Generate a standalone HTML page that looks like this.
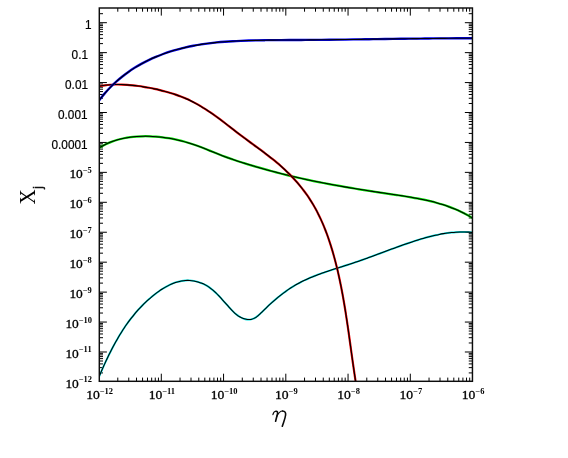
<!DOCTYPE html><html><head><meta charset="utf-8"><style>html,body{margin:0;padding:0;background:#fff;overflow:hidden}svg{display:block;position:absolute;left:0;top:0;will-change:transform}</style></head><body><svg width="568" height="458" viewBox="0 0 568 458"><rect width="568" height="458" fill="#fff"/><defs><clipPath id="c"><rect x="99.30" y="8.00" width="373.15" height="373.30"/></clipPath></defs><path d="M117.79 381.30V377.60M117.79 8.00V11.70M128.75 381.30V377.60M128.75 8.00V11.70M136.53 381.30V377.60M136.53 8.00V11.70M142.56 381.30V377.60M142.56 8.00V11.70M147.49 381.30V377.60M147.49 8.00V11.70M151.66 381.30V377.60M151.66 8.00V11.70M155.27 381.30V377.60M155.27 8.00V11.70M158.45 381.30V377.60M158.45 8.00V11.70M161.30 381.30V373.70M161.30 8.00V15.60M180.04 381.30V377.60M180.04 8.00V11.70M191.00 381.30V377.60M191.00 8.00V11.70M198.78 381.30V377.60M198.78 8.00V11.70M204.81 381.30V377.60M204.81 8.00V11.70M209.74 381.30V377.60M209.74 8.00V11.70M213.91 381.30V377.60M213.91 8.00V11.70M217.52 381.30V377.60M217.52 8.00V11.70M220.70 381.30V377.60M220.70 8.00V11.70M223.55 381.30V373.70M223.55 8.00V15.60M242.29 381.30V377.60M242.29 8.00V11.70M253.25 381.30V377.60M253.25 8.00V11.70M261.03 381.30V377.60M261.03 8.00V11.70M267.06 381.30V377.60M267.06 8.00V11.70M271.99 381.30V377.60M271.99 8.00V11.70M276.16 381.30V377.60M276.16 8.00V11.70M279.77 381.30V377.60M279.77 8.00V11.70M282.95 381.30V377.60M282.95 8.00V11.70M285.80 381.30V373.70M285.80 8.00V15.60M304.54 381.30V377.60M304.54 8.00V11.70M315.50 381.30V377.60M315.50 8.00V11.70M323.28 381.30V377.60M323.28 8.00V11.70M329.31 381.30V377.60M329.31 8.00V11.70M334.24 381.30V377.60M334.24 8.00V11.70M338.41 381.30V377.60M338.41 8.00V11.70M342.02 381.30V377.60M342.02 8.00V11.70M345.20 381.30V377.60M345.20 8.00V11.70M348.05 381.30V373.70M348.05 8.00V15.60M366.79 381.30V377.60M366.79 8.00V11.70M377.75 381.30V377.60M377.75 8.00V11.70M385.53 381.30V377.60M385.53 8.00V11.70M391.56 381.30V377.60M391.56 8.00V11.70M396.49 381.30V377.60M396.49 8.00V11.70M400.66 381.30V377.60M400.66 8.00V11.70M404.27 381.30V377.60M404.27 8.00V11.70M407.45 381.30V377.60M407.45 8.00V11.70M410.30 381.30V373.70M410.30 8.00V15.60M429.04 381.30V377.60M429.04 8.00V11.70M440.00 381.30V377.60M440.00 8.00V11.70M447.78 381.30V377.60M447.78 8.00V11.70M453.81 381.30V377.60M453.81 8.00V11.70M458.74 381.30V377.60M458.74 8.00V11.70M462.91 381.30V377.60M462.91 8.00V11.70M466.52 381.30V377.60M466.52 8.00V11.70M469.70 381.30V377.60M469.70 8.00V11.70M99.30 372.91H103.00M472.45 372.91H468.75M99.30 367.64H103.00M472.45 367.64H468.75M99.30 363.90H103.00M472.45 363.90H468.75M99.30 361.00H103.00M472.45 361.00H468.75M99.30 358.63H103.00M472.45 358.63H468.75M99.30 356.62H103.00M472.45 356.62H468.75M99.30 354.89H103.00M472.45 354.89H468.75M99.30 353.35H103.00M472.45 353.35H468.75M99.30 351.99H106.90M472.45 351.99H464.85M99.30 342.97H103.00M472.45 342.97H468.75M99.30 337.70H103.00M472.45 337.70H468.75M99.30 333.96H103.00M472.45 333.96H468.75M99.30 331.06H103.00M472.45 331.06H468.75M99.30 328.69H103.00M472.45 328.69H468.75M99.30 326.69H103.00M472.45 326.69H468.75M99.30 324.95H103.00M472.45 324.95H468.75M99.30 323.42H103.00M472.45 323.42H468.75M99.30 322.05H106.90M472.45 322.05H464.85M99.30 313.04H103.00M472.45 313.04H468.75M99.30 307.77H103.00M472.45 307.77H468.75M99.30 304.03H103.00M472.45 304.03H468.75M99.30 301.13H103.00M472.45 301.13H468.75M99.30 298.76H103.00M472.45 298.76H468.75M99.30 296.75H103.00M472.45 296.75H468.75M99.30 295.02H103.00M472.45 295.02H468.75M99.30 293.48H103.00M472.45 293.48H468.75M99.30 292.12H106.90M472.45 292.12H464.85M99.30 283.10H103.00M472.45 283.10H468.75M99.30 277.83H103.00M472.45 277.83H468.75M99.30 274.09H103.00M472.45 274.09H468.75M99.30 271.19H103.00M472.45 271.19H468.75M99.30 268.82H103.00M472.45 268.82H468.75M99.30 266.82H103.00M472.45 266.82H468.75M99.30 265.08H103.00M472.45 265.08H468.75M99.30 263.55H103.00M472.45 263.55H468.75M99.30 262.18H106.90M472.45 262.18H464.85M99.30 253.17H103.00M472.45 253.17H468.75M99.30 247.90H103.00M472.45 247.90H468.75M99.30 244.16H103.00M472.45 244.16H468.75M99.30 241.26H103.00M472.45 241.26H468.75M99.30 238.89H103.00M472.45 238.89H468.75M99.30 236.88H103.00M472.45 236.88H468.75M99.30 235.15H103.00M472.45 235.15H468.75M99.30 233.61H103.00M472.45 233.61H468.75M99.30 232.24H106.90M472.45 232.24H464.85M99.30 223.23H103.00M472.45 223.23H468.75M99.30 217.96H103.00M472.45 217.96H468.75M99.30 214.22H103.00M472.45 214.22H468.75M99.30 211.32H103.00M472.45 211.32H468.75M99.30 208.95H103.00M472.45 208.95H468.75M99.30 206.95H103.00M472.45 206.95H468.75M99.30 205.21H103.00M472.45 205.21H468.75M99.30 203.68H103.00M472.45 203.68H468.75M99.30 202.31H106.90M472.45 202.31H464.85M99.30 193.30H103.00M472.45 193.30H468.75M99.30 188.03H103.00M472.45 188.03H468.75M99.30 184.29H103.00M472.45 184.29H468.75M99.30 181.39H103.00M472.45 181.39H468.75M99.30 179.02H103.00M472.45 179.02H468.75M99.30 177.01H103.00M472.45 177.01H468.75M99.30 175.28H103.00M472.45 175.28H468.75M99.30 173.74H103.00M472.45 173.74H468.75M99.30 172.37H106.90M472.45 172.37H464.85M99.30 163.36H103.00M472.45 163.36H468.75M99.30 158.09H103.00M472.45 158.09H468.75M99.30 154.35H103.00M472.45 154.35H468.75M99.30 151.45H103.00M472.45 151.45H468.75M99.30 149.08H103.00M472.45 149.08H468.75M99.30 147.08H103.00M472.45 147.08H468.75M99.30 145.34H103.00M472.45 145.34H468.75M99.30 143.81H103.00M472.45 143.81H468.75M99.30 142.44H106.90M472.45 142.44H464.85M99.30 133.43H103.00M472.45 133.43H468.75M99.30 128.16H103.00M472.45 128.16H468.75M99.30 124.42H103.00M472.45 124.42H468.75M99.30 121.52H103.00M472.45 121.52H468.75M99.30 119.15H103.00M472.45 119.15H468.75M99.30 117.14H103.00M472.45 117.14H468.75M99.30 115.41H103.00M472.45 115.41H468.75M99.30 113.87H103.00M472.45 113.87H468.75M99.30 112.50H106.90M472.45 112.50H464.85M99.30 103.49H103.00M472.45 103.49H468.75M99.30 98.22H103.00M472.45 98.22H468.75M99.30 94.48H103.00M472.45 94.48H468.75M99.30 91.58H103.00M472.45 91.58H468.75M99.30 89.21H103.00M472.45 89.21H468.75M99.30 87.21H103.00M472.45 87.21H468.75M99.30 85.47H103.00M472.45 85.47H468.75M99.30 83.94H103.00M472.45 83.94H468.75M99.30 82.57H106.90M472.45 82.57H464.85M99.30 73.56H103.00M472.45 73.56H468.75M99.30 68.29H103.00M472.45 68.29H468.75M99.30 64.55H103.00M472.45 64.55H468.75M99.30 61.65H103.00M472.45 61.65H468.75M99.30 59.28H103.00M472.45 59.28H468.75M99.30 57.27H103.00M472.45 57.27H468.75M99.30 55.54H103.00M472.45 55.54H468.75M99.30 54.00H103.00M472.45 54.00H468.75M99.30 52.63H106.90M472.45 52.63H464.85M99.30 43.62H103.00M472.45 43.62H468.75M99.30 38.35H103.00M472.45 38.35H468.75M99.30 34.61H103.00M472.45 34.61H468.75M99.30 31.71H103.00M472.45 31.71H468.75M99.30 29.34H103.00M472.45 29.34H468.75M99.30 27.34H103.00M472.45 27.34H468.75M99.30 25.60H103.00M472.45 25.60H468.75M99.30 24.07H103.00M472.45 24.07H468.75M99.30 22.70H106.90M472.45 22.70H464.85M99.30 13.69H103.00M472.45 13.69H468.75" stroke="#000" stroke-width="1" fill="none"/><g clip-path="url(#c)" fill="none" stroke-linecap="round" stroke-linejoin="round"><path d="M99.29 147.78 C100.29 147.24 103.27 145.49 105.29 144.50 C107.31 143.51 109.35 142.64 111.41 141.85 C113.46 141.07 115.54 140.38 117.63 139.78 C119.71 139.18 121.82 138.68 123.93 138.24 C126.04 137.81 128.16 137.46 130.29 137.17 C132.42 136.89 134.56 136.68 136.70 136.53 C138.84 136.38 140.99 136.29 143.14 136.26 C145.28 136.22 147.43 136.24 149.58 136.30 C151.72 136.37 153.87 136.48 156.01 136.65 C158.16 136.81 160.30 137.03 162.44 137.29 C164.58 137.55 166.72 137.87 168.86 138.22 C171.00 138.58 173.13 138.99 175.27 139.44 C177.40 139.90 179.52 140.40 181.65 140.94 C183.77 141.49 185.89 142.08 188.01 142.72 C190.12 143.36 192.23 144.04 194.34 144.77 C196.44 145.49 198.54 146.27 200.64 147.07 C202.73 147.86 204.82 148.70 206.91 149.54 C208.99 150.37 211.08 151.23 213.15 152.07 C215.23 152.91 217.31 153.75 219.38 154.56 C221.45 155.37 223.52 156.15 225.59 156.91 C227.66 157.67 229.73 158.40 231.80 159.12 C233.86 159.83 235.93 160.52 237.99 161.20 C240.06 161.87 242.12 162.53 244.19 163.17 C246.26 163.82 248.32 164.44 250.39 165.07 C252.46 165.69 254.53 166.30 256.60 166.90 C258.67 167.51 260.75 168.10 262.82 168.69 C264.90 169.28 266.98 169.86 269.06 170.43 C271.15 170.99 273.23 171.56 275.33 172.11 C277.42 172.66 279.51 173.20 281.62 173.73 C283.72 174.27 285.83 174.79 287.94 175.30 C290.05 175.82 292.17 176.32 294.30 176.82 C296.42 177.31 298.55 177.80 300.69 178.27 C302.83 178.75 304.97 179.22 307.11 179.67 C309.26 180.13 311.41 180.58 313.57 181.03 C315.72 181.47 317.88 181.90 320.04 182.33 C322.21 182.76 324.37 183.17 326.54 183.59 C328.71 184.00 330.88 184.40 333.05 184.80 C335.23 185.20 337.40 185.59 339.58 185.98 C341.75 186.36 343.93 186.74 346.11 187.12 C348.29 187.49 350.47 187.86 352.65 188.22 C354.83 188.58 357.01 188.94 359.19 189.30 C361.37 189.65 363.55 190.00 365.73 190.34 C367.91 190.69 370.08 191.03 372.26 191.36 C374.43 191.70 376.61 192.03 378.78 192.36 C380.95 192.69 383.12 193.01 385.29 193.34 C387.45 193.66 389.62 193.98 391.78 194.30 C393.94 194.62 396.09 194.93 398.24 195.26 C400.40 195.58 402.54 195.90 404.69 196.24 C406.83 196.58 408.97 196.92 411.10 197.28 C413.23 197.65 415.36 198.02 417.48 198.42 C419.60 198.82 421.72 199.23 423.83 199.68 C425.93 200.13 428.03 200.59 430.13 201.10 C432.22 201.61 434.31 202.14 436.39 202.71 C438.47 203.29 440.54 203.90 442.60 204.55 C444.66 205.21 446.72 205.91 448.76 206.65 C450.80 207.40 452.84 208.19 454.86 209.05 C456.89 209.90 458.90 210.80 460.91 211.76 C462.91 212.73 464.91 213.75 466.89 214.84 C468.87 215.93 471.82 217.73 472.81 218.31" stroke="#00e000" stroke-width="2.25"/><path d="M99.29 147.78 C100.29 147.24 103.27 145.49 105.29 144.50 C107.31 143.51 109.35 142.64 111.41 141.85 C113.46 141.07 115.54 140.38 117.63 139.78 C119.71 139.18 121.82 138.68 123.93 138.24 C126.04 137.81 128.16 137.46 130.29 137.17 C132.42 136.89 134.56 136.68 136.70 136.53 C138.84 136.38 140.99 136.29 143.14 136.26 C145.28 136.22 147.43 136.24 149.58 136.30 C151.72 136.37 153.87 136.48 156.01 136.65 C158.16 136.81 160.30 137.03 162.44 137.29 C164.58 137.55 166.72 137.87 168.86 138.22 C171.00 138.58 173.13 138.99 175.27 139.44 C177.40 139.90 179.52 140.40 181.65 140.94 C183.77 141.49 185.89 142.08 188.01 142.72 C190.12 143.36 192.23 144.04 194.34 144.77 C196.44 145.49 198.54 146.27 200.64 147.07 C202.73 147.86 204.82 148.70 206.91 149.54 C208.99 150.37 211.08 151.23 213.15 152.07 C215.23 152.91 217.31 153.75 219.38 154.56 C221.45 155.37 223.52 156.15 225.59 156.91 C227.66 157.67 229.73 158.40 231.80 159.12 C233.86 159.83 235.93 160.52 237.99 161.20 C240.06 161.87 242.12 162.53 244.19 163.17 C246.26 163.82 248.32 164.44 250.39 165.07 C252.46 165.69 254.53 166.30 256.60 166.90 C258.67 167.51 260.75 168.10 262.82 168.69 C264.90 169.28 266.98 169.86 269.06 170.43 C271.15 170.99 273.23 171.56 275.33 172.11 C277.42 172.66 279.51 173.20 281.62 173.73 C283.72 174.27 285.83 174.79 287.94 175.30 C290.05 175.82 292.17 176.32 294.30 176.82 C296.42 177.31 298.55 177.80 300.69 178.27 C302.83 178.75 304.97 179.22 307.11 179.67 C309.26 180.13 311.41 180.58 313.57 181.03 C315.72 181.47 317.88 181.90 320.04 182.33 C322.21 182.76 324.37 183.17 326.54 183.59 C328.71 184.00 330.88 184.40 333.05 184.80 C335.23 185.20 337.40 185.59 339.58 185.98 C341.75 186.36 343.93 186.74 346.11 187.12 C348.29 187.49 350.47 187.86 352.65 188.22 C354.83 188.58 357.01 188.94 359.19 189.30 C361.37 189.65 363.55 190.00 365.73 190.34 C367.91 190.69 370.08 191.03 372.26 191.36 C374.43 191.70 376.61 192.03 378.78 192.36 C380.95 192.69 383.12 193.01 385.29 193.34 C387.45 193.66 389.62 193.98 391.78 194.30 C393.94 194.62 396.09 194.93 398.24 195.26 C400.40 195.58 402.54 195.90 404.69 196.24 C406.83 196.58 408.97 196.92 411.10 197.28 C413.23 197.65 415.36 198.02 417.48 198.42 C419.60 198.82 421.72 199.23 423.83 199.68 C425.93 200.13 428.03 200.59 430.13 201.10 C432.22 201.61 434.31 202.14 436.39 202.71 C438.47 203.29 440.54 203.90 442.60 204.55 C444.66 205.21 446.72 205.91 448.76 206.65 C450.80 207.40 452.84 208.19 454.86 209.05 C456.89 209.90 458.90 210.80 460.91 211.76 C462.91 212.73 464.91 213.75 466.89 214.84 C468.87 215.93 471.82 217.73 472.81 218.31" stroke="#000" stroke-width="1.05"/></g><g clip-path="url(#c)" fill="none" stroke-linecap="round" stroke-linejoin="round"><path d="M99.30 376.07 C99.57 375.44 100.39 373.53 100.94 372.26 C101.49 370.99 102.05 369.72 102.61 368.45 C103.18 367.17 103.75 365.90 104.33 364.63 C104.91 363.36 105.49 362.09 106.08 360.83 C106.68 359.56 107.28 358.30 107.89 357.04 C108.50 355.77 109.11 354.52 109.74 353.26 C110.36 352.01 111.00 350.75 111.64 349.51 C112.29 348.26 112.94 347.02 113.60 345.78 C114.27 344.55 114.94 343.32 115.62 342.09 C116.30 340.87 117.00 339.65 117.70 338.44 C118.41 337.22 119.12 336.02 119.85 334.82 C120.58 333.63 121.32 332.44 122.07 331.26 C122.82 330.08 123.58 328.90 124.36 327.74 C125.13 326.58 125.92 325.43 126.72 324.28 C127.53 323.14 128.34 322.01 129.17 320.89 C130.00 319.77 130.84 318.66 131.70 317.56 C132.55 316.46 133.43 315.38 134.31 314.30 C135.20 313.23 136.10 312.17 137.02 311.12 C137.93 310.08 138.87 309.04 139.81 308.02 C140.76 307.01 141.73 306.00 142.71 305.01 C143.69 304.02 144.69 303.05 145.70 302.09 C146.72 301.13 147.75 300.19 148.80 299.27 C149.85 298.34 150.92 297.43 152.00 296.54 C153.09 295.65 154.19 294.78 155.32 293.93 C156.44 293.07 157.58 292.24 158.74 291.42 C159.90 290.61 161.08 289.81 162.28 289.05 C163.48 288.29 164.70 287.55 165.93 286.86 C167.16 286.17 168.41 285.51 169.67 284.90 C170.94 284.30 172.22 283.73 173.51 283.23 C174.80 282.73 176.11 282.28 177.43 281.90 C178.75 281.52 180.09 281.19 181.43 280.95 C182.78 280.71 184.14 280.53 185.51 280.44 C186.87 280.35 188.26 280.34 189.64 280.42 C191.02 280.50 192.43 280.67 193.81 280.92 C195.19 281.16 196.58 281.49 197.94 281.89 C199.29 282.29 200.64 282.77 201.95 283.32 C203.26 283.86 204.54 284.48 205.77 285.16 C207.00 285.83 208.19 286.58 209.34 287.38 C210.48 288.17 211.57 289.03 212.63 289.92 C213.69 290.81 214.71 291.76 215.71 292.72 C216.71 293.68 217.68 294.67 218.64 295.68 C219.60 296.68 220.53 297.70 221.47 298.72 C222.40 299.74 223.32 300.76 224.26 301.80 C225.19 302.84 226.11 303.89 227.06 304.95 C228.01 306.01 228.96 307.11 229.94 308.18 C230.92 309.25 231.92 310.35 232.96 311.36 C233.99 312.38 235.05 313.39 236.16 314.29 C237.27 315.18 238.41 316.04 239.61 316.75 C240.81 317.46 242.07 318.09 243.34 318.54 C244.61 319.00 245.93 319.34 247.22 319.49 C248.50 319.63 249.81 319.63 251.04 319.40 C252.27 319.17 253.47 318.72 254.62 318.11 C255.76 317.51 256.84 316.66 257.91 315.79 C258.98 314.91 260.01 313.87 261.05 312.88 C262.09 311.88 263.11 310.83 264.15 309.83 C265.19 308.82 266.23 307.82 267.27 306.84 C268.32 305.85 269.37 304.88 270.42 303.92 C271.48 302.95 272.54 302.01 273.61 301.07 C274.67 300.14 275.75 299.22 276.83 298.31 C277.91 297.41 279.00 296.52 280.09 295.65 C281.19 294.78 282.30 293.92 283.41 293.09 C284.53 292.25 285.65 291.43 286.78 290.64 C287.92 289.84 289.06 289.06 290.21 288.30 C291.37 287.55 292.54 286.81 293.71 286.10 C294.89 285.38 296.08 284.69 297.29 284.02 C298.49 283.36 299.70 282.71 300.93 282.08 C302.16 281.46 303.39 280.85 304.64 280.26 C305.88 279.67 307.14 279.11 308.41 278.55 C309.67 278.00 310.95 277.46 312.23 276.93 C313.51 276.41 314.80 275.90 316.09 275.40 C317.39 274.90 318.69 274.42 320.00 273.94 C321.31 273.46 322.63 273.00 323.95 272.54 C325.27 272.08 326.59 271.63 327.92 271.19 C329.24 270.74 330.58 270.31 331.91 269.87 C333.24 269.44 334.58 269.01 335.92 268.58 C337.26 268.15 338.60 267.73 339.94 267.30 C341.28 266.88 342.62 266.45 343.96 266.03 C345.30 265.60 346.64 265.17 347.98 264.74 C349.32 264.30 350.66 263.87 352.00 263.42 C353.33 262.98 354.66 262.53 355.99 262.08 C357.32 261.62 358.65 261.16 359.98 260.70 C361.30 260.23 362.63 259.76 363.95 259.29 C365.27 258.82 366.59 258.34 367.91 257.86 C369.23 257.38 370.55 256.90 371.86 256.42 C373.18 255.93 374.50 255.45 375.81 254.96 C377.12 254.47 378.44 253.98 379.75 253.50 C381.06 253.01 382.37 252.52 383.69 252.03 C385.00 251.54 386.31 251.05 387.62 250.57 C388.93 250.08 390.24 249.60 391.55 249.11 C392.86 248.63 394.18 248.15 395.49 247.67 C396.80 247.19 398.11 246.72 399.43 246.25 C400.74 245.78 402.05 245.31 403.37 244.85 C404.69 244.39 406.00 243.93 407.32 243.48 C408.64 243.03 409.96 242.58 411.28 242.14 C412.60 241.71 413.92 241.27 415.25 240.85 C416.57 240.42 417.90 240.00 419.23 239.59 C420.55 239.19 421.89 238.79 423.22 238.40 C424.55 238.01 425.89 237.63 427.23 237.27 C428.57 236.90 429.91 236.55 431.25 236.22 C432.60 235.88 433.94 235.56 435.30 235.25 C436.65 234.95 438.00 234.66 439.36 234.39 C440.72 234.12 442.08 233.87 443.45 233.64 C444.81 233.42 446.18 233.20 447.55 233.02 C448.93 232.83 450.31 232.67 451.69 232.53 C453.07 232.39 454.46 232.27 455.85 232.18 C457.24 232.10 458.64 232.03 460.04 232.00 C461.44 231.96 462.85 231.96 464.26 231.98 C465.68 232.01 467.09 232.06 468.52 232.14 C469.94 232.23 472.09 232.44 472.80 232.50" stroke="#00e0e0" stroke-width="1.9"/><path d="M99.30 376.07 C99.57 375.44 100.39 373.53 100.94 372.26 C101.49 370.99 102.05 369.72 102.61 368.45 C103.18 367.17 103.75 365.90 104.33 364.63 C104.91 363.36 105.49 362.09 106.08 360.83 C106.68 359.56 107.28 358.30 107.89 357.04 C108.50 355.77 109.11 354.52 109.74 353.26 C110.36 352.01 111.00 350.75 111.64 349.51 C112.29 348.26 112.94 347.02 113.60 345.78 C114.27 344.55 114.94 343.32 115.62 342.09 C116.30 340.87 117.00 339.65 117.70 338.44 C118.41 337.22 119.12 336.02 119.85 334.82 C120.58 333.63 121.32 332.44 122.07 331.26 C122.82 330.08 123.58 328.90 124.36 327.74 C125.13 326.58 125.92 325.43 126.72 324.28 C127.53 323.14 128.34 322.01 129.17 320.89 C130.00 319.77 130.84 318.66 131.70 317.56 C132.55 316.46 133.43 315.38 134.31 314.30 C135.20 313.23 136.10 312.17 137.02 311.12 C137.93 310.08 138.87 309.04 139.81 308.02 C140.76 307.01 141.73 306.00 142.71 305.01 C143.69 304.02 144.69 303.05 145.70 302.09 C146.72 301.13 147.75 300.19 148.80 299.27 C149.85 298.34 150.92 297.43 152.00 296.54 C153.09 295.65 154.19 294.78 155.32 293.93 C156.44 293.07 157.58 292.24 158.74 291.42 C159.90 290.61 161.08 289.81 162.28 289.05 C163.48 288.29 164.70 287.55 165.93 286.86 C167.16 286.17 168.41 285.51 169.67 284.90 C170.94 284.30 172.22 283.73 173.51 283.23 C174.80 282.73 176.11 282.28 177.43 281.90 C178.75 281.52 180.09 281.19 181.43 280.95 C182.78 280.71 184.14 280.53 185.51 280.44 C186.87 280.35 188.26 280.34 189.64 280.42 C191.02 280.50 192.43 280.67 193.81 280.92 C195.19 281.16 196.58 281.49 197.94 281.89 C199.29 282.29 200.64 282.77 201.95 283.32 C203.26 283.86 204.54 284.48 205.77 285.16 C207.00 285.83 208.19 286.58 209.34 287.38 C210.48 288.17 211.57 289.03 212.63 289.92 C213.69 290.81 214.71 291.76 215.71 292.72 C216.71 293.68 217.68 294.67 218.64 295.68 C219.60 296.68 220.53 297.70 221.47 298.72 C222.40 299.74 223.32 300.76 224.26 301.80 C225.19 302.84 226.11 303.89 227.06 304.95 C228.01 306.01 228.96 307.11 229.94 308.18 C230.92 309.25 231.92 310.35 232.96 311.36 C233.99 312.38 235.05 313.39 236.16 314.29 C237.27 315.18 238.41 316.04 239.61 316.75 C240.81 317.46 242.07 318.09 243.34 318.54 C244.61 319.00 245.93 319.34 247.22 319.49 C248.50 319.63 249.81 319.63 251.04 319.40 C252.27 319.17 253.47 318.72 254.62 318.11 C255.76 317.51 256.84 316.66 257.91 315.79 C258.98 314.91 260.01 313.87 261.05 312.88 C262.09 311.88 263.11 310.83 264.15 309.83 C265.19 308.82 266.23 307.82 267.27 306.84 C268.32 305.85 269.37 304.88 270.42 303.92 C271.48 302.95 272.54 302.01 273.61 301.07 C274.67 300.14 275.75 299.22 276.83 298.31 C277.91 297.41 279.00 296.52 280.09 295.65 C281.19 294.78 282.30 293.92 283.41 293.09 C284.53 292.25 285.65 291.43 286.78 290.64 C287.92 289.84 289.06 289.06 290.21 288.30 C291.37 287.55 292.54 286.81 293.71 286.10 C294.89 285.38 296.08 284.69 297.29 284.02 C298.49 283.36 299.70 282.71 300.93 282.08 C302.16 281.46 303.39 280.85 304.64 280.26 C305.88 279.67 307.14 279.11 308.41 278.55 C309.67 278.00 310.95 277.46 312.23 276.93 C313.51 276.41 314.80 275.90 316.09 275.40 C317.39 274.90 318.69 274.42 320.00 273.94 C321.31 273.46 322.63 273.00 323.95 272.54 C325.27 272.08 326.59 271.63 327.92 271.19 C329.24 270.74 330.58 270.31 331.91 269.87 C333.24 269.44 334.58 269.01 335.92 268.58 C337.26 268.15 338.60 267.73 339.94 267.30 C341.28 266.88 342.62 266.45 343.96 266.03 C345.30 265.60 346.64 265.17 347.98 264.74 C349.32 264.30 350.66 263.87 352.00 263.42 C353.33 262.98 354.66 262.53 355.99 262.08 C357.32 261.62 358.65 261.16 359.98 260.70 C361.30 260.23 362.63 259.76 363.95 259.29 C365.27 258.82 366.59 258.34 367.91 257.86 C369.23 257.38 370.55 256.90 371.86 256.42 C373.18 255.93 374.50 255.45 375.81 254.96 C377.12 254.47 378.44 253.98 379.75 253.50 C381.06 253.01 382.37 252.52 383.69 252.03 C385.00 251.54 386.31 251.05 387.62 250.57 C388.93 250.08 390.24 249.60 391.55 249.11 C392.86 248.63 394.18 248.15 395.49 247.67 C396.80 247.19 398.11 246.72 399.43 246.25 C400.74 245.78 402.05 245.31 403.37 244.85 C404.69 244.39 406.00 243.93 407.32 243.48 C408.64 243.03 409.96 242.58 411.28 242.14 C412.60 241.71 413.92 241.27 415.25 240.85 C416.57 240.42 417.90 240.00 419.23 239.59 C420.55 239.19 421.89 238.79 423.22 238.40 C424.55 238.01 425.89 237.63 427.23 237.27 C428.57 236.90 429.91 236.55 431.25 236.22 C432.60 235.88 433.94 235.56 435.30 235.25 C436.65 234.95 438.00 234.66 439.36 234.39 C440.72 234.12 442.08 233.87 443.45 233.64 C444.81 233.42 446.18 233.20 447.55 233.02 C448.93 232.83 450.31 232.67 451.69 232.53 C453.07 232.39 454.46 232.27 455.85 232.18 C457.24 232.10 458.64 232.03 460.04 232.00 C461.44 231.96 462.85 231.96 464.26 231.98 C465.68 232.01 467.09 232.06 468.52 232.14 C469.94 232.23 472.09 232.44 472.80 232.50" stroke="#000" stroke-width="1.05"/></g><g clip-path="url(#c)" fill="none" stroke-linecap="round" stroke-linejoin="round"><path d="M99.29 86.19 C100.22 86.04 103.00 85.54 104.85 85.30 C106.70 85.06 108.56 84.88 110.41 84.75 C112.27 84.62 114.12 84.54 115.97 84.51 C117.83 84.47 119.68 84.49 121.53 84.54 C123.38 84.60 125.24 84.69 127.08 84.82 C128.93 84.95 130.78 85.13 132.62 85.32 C134.46 85.52 136.30 85.75 138.13 86.00 C139.96 86.25 141.79 86.54 143.61 86.84 C145.44 87.13 147.26 87.45 149.07 87.79 C150.88 88.13 152.69 88.49 154.48 88.87 C156.28 89.25 158.07 89.65 159.85 90.08 C161.64 90.51 163.41 90.96 165.18 91.44 C166.94 91.92 168.70 92.42 170.44 92.95 C172.19 93.49 173.93 94.05 175.65 94.64 C177.38 95.24 179.09 95.86 180.79 96.52 C182.49 97.18 184.18 97.87 185.86 98.60 C187.54 99.32 189.20 100.08 190.85 100.88 C192.50 101.68 194.14 102.52 195.76 103.40 C197.38 104.27 198.99 105.19 200.59 106.14 C202.18 107.08 203.76 108.06 205.33 109.07 C206.91 110.07 208.47 111.11 210.02 112.17 C211.57 113.22 213.11 114.30 214.64 115.40 C216.17 116.49 217.69 117.61 219.21 118.74 C220.72 119.86 222.23 121.00 223.74 122.15 C225.24 123.29 226.74 124.45 228.23 125.60 C229.72 126.75 231.21 127.91 232.70 129.06 C234.18 130.22 235.67 131.37 237.15 132.51 C238.63 133.65 240.11 134.79 241.59 135.91 C243.07 137.03 244.55 138.13 246.03 139.23 C247.51 140.33 248.99 141.42 250.46 142.50 C251.94 143.59 253.41 144.66 254.89 145.74 C256.36 146.82 257.83 147.89 259.29 148.98 C260.76 150.06 262.22 151.14 263.67 152.24 C265.13 153.33 266.58 154.43 268.03 155.54 C269.47 156.66 270.91 157.78 272.34 158.92 C273.77 160.06 275.20 161.22 276.61 162.40 C278.02 163.58 279.42 164.78 280.81 166.01 C282.19 167.23 283.57 168.48 284.92 169.76 C286.28 171.03 287.62 172.33 288.94 173.65 C290.25 174.96 291.56 176.31 292.84 177.67 C294.11 179.03 295.37 180.42 296.60 181.82 C297.84 183.22 299.05 184.65 300.23 186.09 C301.41 187.53 302.56 189.00 303.69 190.48 C304.81 191.96 305.91 193.46 306.97 194.97 C308.03 196.49 309.06 198.02 310.06 199.57 C311.06 201.12 312.02 202.68 312.96 204.26 C313.90 205.84 314.80 207.44 315.68 209.05 C316.56 210.66 317.41 212.28 318.23 213.92 C319.05 215.56 319.85 217.21 320.62 218.87 C321.39 220.53 322.13 222.21 322.86 223.89 C323.58 225.58 324.28 227.27 324.95 228.98 C325.63 230.68 326.28 232.40 326.92 234.13 C327.55 235.85 328.17 237.59 328.76 239.33 C329.36 241.07 329.94 242.82 330.50 244.58 C331.06 246.33 331.60 248.10 332.13 249.87 C332.66 251.64 333.17 253.41 333.67 255.20 C334.17 256.98 334.65 258.76 335.12 260.55 C335.59 262.35 336.05 264.14 336.50 265.94 C336.94 267.74 337.38 269.55 337.80 271.36 C338.22 273.17 338.63 274.98 339.03 276.80 C339.43 278.61 339.81 280.43 340.19 282.26 C340.57 284.08 340.94 285.91 341.30 287.74 C341.65 289.57 342.00 291.40 342.34 293.23 C342.68 295.07 343.02 296.90 343.34 298.74 C343.67 300.58 343.98 302.42 344.29 304.26 C344.61 306.11 344.91 307.95 345.21 309.79 C345.50 311.64 345.80 313.48 346.08 315.33 C346.37 317.18 346.65 319.02 346.93 320.87 C347.21 322.72 347.48 324.56 347.75 326.41 C348.02 328.26 348.28 330.10 348.55 331.95 C348.81 333.79 349.07 335.64 349.33 337.48 C349.59 339.33 349.85 341.17 350.10 343.01 C350.36 344.85 350.61 346.69 350.87 348.53 C351.12 350.36 351.38 352.20 351.63 354.03 C351.89 355.87 352.14 357.70 352.40 359.53 C352.66 361.35 352.91 363.18 353.18 365.00 C353.44 366.82 353.70 368.64 353.97 370.45 C354.23 372.27 354.50 374.08 354.77 375.89 C355.05 377.69 355.47 380.39 355.61 381.30" stroke="#f00000" stroke-width="2.2"/><path d="M99.29 86.19 C100.22 86.04 103.00 85.54 104.85 85.30 C106.70 85.06 108.56 84.88 110.41 84.75 C112.27 84.62 114.12 84.54 115.97 84.51 C117.83 84.47 119.68 84.49 121.53 84.54 C123.38 84.60 125.24 84.69 127.08 84.82 C128.93 84.95 130.78 85.13 132.62 85.32 C134.46 85.52 136.30 85.75 138.13 86.00 C139.96 86.25 141.79 86.54 143.61 86.84 C145.44 87.13 147.26 87.45 149.07 87.79 C150.88 88.13 152.69 88.49 154.48 88.87 C156.28 89.25 158.07 89.65 159.85 90.08 C161.64 90.51 163.41 90.96 165.18 91.44 C166.94 91.92 168.70 92.42 170.44 92.95 C172.19 93.49 173.93 94.05 175.65 94.64 C177.38 95.24 179.09 95.86 180.79 96.52 C182.49 97.18 184.18 97.87 185.86 98.60 C187.54 99.32 189.20 100.08 190.85 100.88 C192.50 101.68 194.14 102.52 195.76 103.40 C197.38 104.27 198.99 105.19 200.59 106.14 C202.18 107.08 203.76 108.06 205.33 109.07 C206.91 110.07 208.47 111.11 210.02 112.17 C211.57 113.22 213.11 114.30 214.64 115.40 C216.17 116.49 217.69 117.61 219.21 118.74 C220.72 119.86 222.23 121.00 223.74 122.15 C225.24 123.29 226.74 124.45 228.23 125.60 C229.72 126.75 231.21 127.91 232.70 129.06 C234.18 130.22 235.67 131.37 237.15 132.51 C238.63 133.65 240.11 134.79 241.59 135.91 C243.07 137.03 244.55 138.13 246.03 139.23 C247.51 140.33 248.99 141.42 250.46 142.50 C251.94 143.59 253.41 144.66 254.89 145.74 C256.36 146.82 257.83 147.89 259.29 148.98 C260.76 150.06 262.22 151.14 263.67 152.24 C265.13 153.33 266.58 154.43 268.03 155.54 C269.47 156.66 270.91 157.78 272.34 158.92 C273.77 160.06 275.20 161.22 276.61 162.40 C278.02 163.58 279.42 164.78 280.81 166.01 C282.19 167.23 283.57 168.48 284.92 169.76 C286.28 171.03 287.62 172.33 288.94 173.65 C290.25 174.96 291.56 176.31 292.84 177.67 C294.11 179.03 295.37 180.42 296.60 181.82 C297.84 183.22 299.05 184.65 300.23 186.09 C301.41 187.53 302.56 189.00 303.69 190.48 C304.81 191.96 305.91 193.46 306.97 194.97 C308.03 196.49 309.06 198.02 310.06 199.57 C311.06 201.12 312.02 202.68 312.96 204.26 C313.90 205.84 314.80 207.44 315.68 209.05 C316.56 210.66 317.41 212.28 318.23 213.92 C319.05 215.56 319.85 217.21 320.62 218.87 C321.39 220.53 322.13 222.21 322.86 223.89 C323.58 225.58 324.28 227.27 324.95 228.98 C325.63 230.68 326.28 232.40 326.92 234.13 C327.55 235.85 328.17 237.59 328.76 239.33 C329.36 241.07 329.94 242.82 330.50 244.58 C331.06 246.33 331.60 248.10 332.13 249.87 C332.66 251.64 333.17 253.41 333.67 255.20 C334.17 256.98 334.65 258.76 335.12 260.55 C335.59 262.35 336.05 264.14 336.50 265.94 C336.94 267.74 337.38 269.55 337.80 271.36 C338.22 273.17 338.63 274.98 339.03 276.80 C339.43 278.61 339.81 280.43 340.19 282.26 C340.57 284.08 340.94 285.91 341.30 287.74 C341.65 289.57 342.00 291.40 342.34 293.23 C342.68 295.07 343.02 296.90 343.34 298.74 C343.67 300.58 343.98 302.42 344.29 304.26 C344.61 306.11 344.91 307.95 345.21 309.79 C345.50 311.64 345.80 313.48 346.08 315.33 C346.37 317.18 346.65 319.02 346.93 320.87 C347.21 322.72 347.48 324.56 347.75 326.41 C348.02 328.26 348.28 330.10 348.55 331.95 C348.81 333.79 349.07 335.64 349.33 337.48 C349.59 339.33 349.85 341.17 350.10 343.01 C350.36 344.85 350.61 346.69 350.87 348.53 C351.12 350.36 351.38 352.20 351.63 354.03 C351.89 355.87 352.14 357.70 352.40 359.53 C352.66 361.35 352.91 363.18 353.18 365.00 C353.44 366.82 353.70 368.64 353.97 370.45 C354.23 372.27 354.50 374.08 354.77 375.89 C355.05 377.69 355.47 380.39 355.61 381.30" stroke="#000" stroke-width="1.15"/></g><g clip-path="url(#c)" fill="none" stroke-linecap="round" stroke-linejoin="round"><path d="M99.27 100.20 C100.15 99.10 102.74 95.74 104.55 93.63 C106.36 91.52 108.22 89.49 110.12 87.54 C112.02 85.59 113.97 83.71 115.96 81.91 C117.96 80.10 119.99 78.38 122.07 76.72 C124.14 75.06 126.26 73.48 128.41 71.96 C130.56 70.44 132.75 68.99 134.97 67.61 C137.19 66.22 139.45 64.91 141.74 63.65 C144.03 62.40 146.35 61.21 148.70 60.08 C151.04 58.95 153.42 57.88 155.82 56.87 C158.23 55.86 160.65 54.91 163.10 54.01 C165.55 53.11 168.03 52.27 170.52 51.48 C173.01 50.69 175.53 49.96 178.05 49.28 C180.58 48.59 183.13 47.96 185.69 47.37 C188.25 46.78 190.82 46.25 193.41 45.75 C195.99 45.26 198.59 44.81 201.19 44.41 C203.80 44.00 206.41 43.64 209.04 43.31 C211.66 42.98 214.29 42.69 216.93 42.42 C219.57 42.16 222.22 41.94 224.87 41.73 C227.52 41.53 230.18 41.36 232.85 41.21 C235.51 41.05 238.18 40.93 240.85 40.81 C243.53 40.70 246.21 40.61 248.89 40.53 C251.57 40.45 254.26 40.39 256.95 40.33 C259.63 40.28 262.32 40.23 265.01 40.20 C267.70 40.16 270.40 40.13 273.09 40.11 C275.78 40.09 278.47 40.07 281.16 40.06 C283.85 40.04 286.54 40.03 289.23 40.02 C291.92 40.01 294.61 40.00 297.29 39.99 C299.97 39.98 302.65 39.96 305.33 39.95 C308.00 39.93 310.68 39.91 313.35 39.89 C316.02 39.87 318.69 39.84 321.35 39.82 C324.02 39.79 326.68 39.77 329.34 39.74 C332.01 39.71 334.67 39.68 337.32 39.65 C339.98 39.62 342.64 39.58 345.29 39.55 C347.95 39.52 350.60 39.48 353.25 39.45 C355.90 39.41 358.55 39.37 361.20 39.34 C363.85 39.30 366.50 39.27 369.15 39.23 C371.80 39.19 374.44 39.15 377.09 39.12 C379.74 39.08 382.39 39.04 385.03 39.01 C387.68 38.97 390.33 38.93 392.98 38.90 C395.62 38.86 398.27 38.83 400.92 38.79 C403.57 38.76 406.22 38.72 408.87 38.69 C411.52 38.66 414.17 38.63 416.82 38.60 C419.47 38.57 422.13 38.54 424.78 38.51 C427.44 38.48 430.09 38.46 432.75 38.43 C435.41 38.41 438.07 38.39 440.73 38.37 C443.40 38.35 446.06 38.33 448.73 38.32 C451.39 38.30 454.06 38.29 456.73 38.28 C459.41 38.27 462.08 38.26 464.76 38.26 C467.44 38.25 471.46 38.25 472.80 38.25" stroke="#0000f0" stroke-width="2.35"/><path d="M99.27 100.20 C100.15 99.10 102.74 95.74 104.55 93.63 C106.36 91.52 108.22 89.49 110.12 87.54 C112.02 85.59 113.97 83.71 115.96 81.91 C117.96 80.10 119.99 78.38 122.07 76.72 C124.14 75.06 126.26 73.48 128.41 71.96 C130.56 70.44 132.75 68.99 134.97 67.61 C137.19 66.22 139.45 64.91 141.74 63.65 C144.03 62.40 146.35 61.21 148.70 60.08 C151.04 58.95 153.42 57.88 155.82 56.87 C158.23 55.86 160.65 54.91 163.10 54.01 C165.55 53.11 168.03 52.27 170.52 51.48 C173.01 50.69 175.53 49.96 178.05 49.28 C180.58 48.59 183.13 47.96 185.69 47.37 C188.25 46.78 190.82 46.25 193.41 45.75 C195.99 45.26 198.59 44.81 201.19 44.41 C203.80 44.00 206.41 43.64 209.04 43.31 C211.66 42.98 214.29 42.69 216.93 42.42 C219.57 42.16 222.22 41.94 224.87 41.73 C227.52 41.53 230.18 41.36 232.85 41.21 C235.51 41.05 238.18 40.93 240.85 40.81 C243.53 40.70 246.21 40.61 248.89 40.53 C251.57 40.45 254.26 40.39 256.95 40.33 C259.63 40.28 262.32 40.23 265.01 40.20 C267.70 40.16 270.40 40.13 273.09 40.11 C275.78 40.09 278.47 40.07 281.16 40.06 C283.85 40.04 286.54 40.03 289.23 40.02 C291.92 40.01 294.61 40.00 297.29 39.99 C299.97 39.98 302.65 39.96 305.33 39.95 C308.00 39.93 310.68 39.91 313.35 39.89 C316.02 39.87 318.69 39.84 321.35 39.82 C324.02 39.79 326.68 39.77 329.34 39.74 C332.01 39.71 334.67 39.68 337.32 39.65 C339.98 39.62 342.64 39.58 345.29 39.55 C347.95 39.52 350.60 39.48 353.25 39.45 C355.90 39.41 358.55 39.37 361.20 39.34 C363.85 39.30 366.50 39.27 369.15 39.23 C371.80 39.19 374.44 39.15 377.09 39.12 C379.74 39.08 382.39 39.04 385.03 39.01 C387.68 38.97 390.33 38.93 392.98 38.90 C395.62 38.86 398.27 38.83 400.92 38.79 C403.57 38.76 406.22 38.72 408.87 38.69 C411.52 38.66 414.17 38.63 416.82 38.60 C419.47 38.57 422.13 38.54 424.78 38.51 C427.44 38.48 430.09 38.46 432.75 38.43 C435.41 38.41 438.07 38.39 440.73 38.37 C443.40 38.35 446.06 38.33 448.73 38.32 C451.39 38.30 454.06 38.29 456.73 38.28 C459.41 38.27 462.08 38.26 464.76 38.26 C467.44 38.25 471.46 38.25 472.80 38.25" stroke="#000" stroke-width="1.1"/></g><rect x="99.30" y="8.00" width="373.15" height="373.30" fill="none" stroke="#0c0c0c" stroke-width="1.45"/><g transform="translate(91.50,29.20) scale(0.93,1)"><text x="0" y="0" text-anchor="end" font-family="Liberation Sans, sans-serif" font-size="12.7" fill="#000" stroke="#000" stroke-width="0.22">1</text></g><g transform="translate(88.00,59.13) scale(0.93,1)"><text x="0" y="0" text-anchor="end" font-family="Liberation Sans, sans-serif" font-size="12.7" fill="#000" stroke="#000" stroke-width="0.22">0.1</text></g><g transform="translate(88.00,89.07) scale(0.93,1)"><text x="0" y="0" text-anchor="end" font-family="Liberation Sans, sans-serif" font-size="12.7" fill="#000" stroke="#000" stroke-width="0.22">0.01</text></g><g transform="translate(87.50,119.00) scale(0.93,1)"><text x="0" y="0" text-anchor="end" font-family="Liberation Sans, sans-serif" font-size="12.7" fill="#000" stroke="#000" stroke-width="0.22">0.001</text></g><g transform="translate(87.60,148.94) scale(0.93,1)"><text x="0" y="0" text-anchor="end" font-family="Liberation Sans, sans-serif" font-size="12.7" fill="#000" stroke="#000" stroke-width="0.22">0.0001</text></g><g transform="translate(69.40,178.17) scale(1.100,1)"><text x="0" y="0" text-anchor="start" font-family="Liberation Serif, serif" fill="#000" font-size="12.2" stroke="#000" stroke-width="0.3">10<tspan dy="-5.3" font-size="7.7" font-weight="bold" stroke="none">−5</tspan></text></g><g transform="translate(69.40,208.11) scale(1.100,1)"><text x="0" y="0" text-anchor="start" font-family="Liberation Serif, serif" fill="#000" font-size="12.2" stroke="#000" stroke-width="0.3">10<tspan dy="-5.3" font-size="7.7" font-weight="bold" stroke="none">−6</tspan></text></g><g transform="translate(69.40,238.04) scale(1.100,1)"><text x="0" y="0" text-anchor="start" font-family="Liberation Serif, serif" fill="#000" font-size="12.2" stroke="#000" stroke-width="0.3">10<tspan dy="-5.3" font-size="7.7" font-weight="bold" stroke="none">−7</tspan></text></g><g transform="translate(69.40,267.98) scale(1.100,1)"><text x="0" y="0" text-anchor="start" font-family="Liberation Serif, serif" fill="#000" font-size="12.2" stroke="#000" stroke-width="0.3">10<tspan dy="-5.3" font-size="7.7" font-weight="bold" stroke="none">−8</tspan></text></g><g transform="translate(69.40,297.91) scale(1.100,1)"><text x="0" y="0" text-anchor="start" font-family="Liberation Serif, serif" fill="#000" font-size="12.2" stroke="#000" stroke-width="0.3">10<tspan dy="-5.3" font-size="7.7" font-weight="bold" stroke="none">−9</tspan></text></g><g transform="translate(65.40,327.85) scale(1.100,1)"><text x="0" y="0" text-anchor="start" font-family="Liberation Serif, serif" fill="#000" font-size="12.2" stroke="#000" stroke-width="0.3">10<tspan dy="-5.3" font-size="7.7" font-weight="bold" stroke="none">−10</tspan></text></g><g transform="translate(65.40,357.78) scale(1.100,1)"><text x="0" y="0" text-anchor="start" font-family="Liberation Serif, serif" fill="#000" font-size="12.2" stroke="#000" stroke-width="0.3">10<tspan dy="-5.3" font-size="7.7" font-weight="bold" stroke="none">−11</tspan></text></g><g transform="translate(65.40,387.72) scale(1.100,1)"><text x="0" y="0" text-anchor="start" font-family="Liberation Serif, serif" fill="#000" font-size="12.2" stroke="#000" stroke-width="0.3">10<tspan dy="-5.3" font-size="7.7" font-weight="bold" stroke="none">−12</tspan></text></g><g transform="translate(99.60,399.00) scale(1.100,1)"><text x="0" y="0" text-anchor="middle" font-family="Liberation Serif, serif" fill="#000" font-size="12.4" stroke="#000" stroke-width="0.3">10<tspan dy="-5.3" font-size="7.7" font-weight="bold" stroke="none">−12</tspan></text></g><g transform="translate(161.85,399.00) scale(1.100,1)"><text x="0" y="0" text-anchor="middle" font-family="Liberation Serif, serif" fill="#000" font-size="12.4" stroke="#000" stroke-width="0.3">10<tspan dy="-5.3" font-size="7.7" font-weight="bold" stroke="none">−11</tspan></text></g><g transform="translate(224.10,399.00) scale(1.100,1)"><text x="0" y="0" text-anchor="middle" font-family="Liberation Serif, serif" fill="#000" font-size="12.4" stroke="#000" stroke-width="0.3">10<tspan dy="-5.3" font-size="7.7" font-weight="bold" stroke="none">−10</tspan></text></g><g transform="translate(286.35,399.00) scale(1.100,1)"><text x="0" y="0" text-anchor="middle" font-family="Liberation Serif, serif" fill="#000" font-size="12.4" stroke="#000" stroke-width="0.3">10<tspan dy="-5.3" font-size="7.7" font-weight="bold" stroke="none">−9</tspan></text></g><g transform="translate(348.60,399.00) scale(1.100,1)"><text x="0" y="0" text-anchor="middle" font-family="Liberation Serif, serif" fill="#000" font-size="12.4" stroke="#000" stroke-width="0.3">10<tspan dy="-5.3" font-size="7.7" font-weight="bold" stroke="none">−8</tspan></text></g><g transform="translate(410.85,399.00) scale(1.100,1)"><text x="0" y="0" text-anchor="middle" font-family="Liberation Serif, serif" fill="#000" font-size="12.4" stroke="#000" stroke-width="0.3">10<tspan dy="-5.3" font-size="7.7" font-weight="bold" stroke="none">−7</tspan></text></g><g transform="translate(473.10,399.00) scale(1.100,1)"><text x="0" y="0" text-anchor="middle" font-family="Liberation Serif, serif" fill="#000" font-size="12.4" stroke="#000" stroke-width="0.3">10<tspan dy="-5.3" font-size="7.7" font-weight="bold" stroke="none">−6</tspan></text></g><g fill="none" stroke="#0a0a0a" stroke-linecap="round" stroke-linejoin="round"><path d="M272.9 414.6C273.3 412.6 274.6 411.2 276 411.2" stroke-width="1.15"/><path d="M276 411.2C277.4 411.2 277.8 412.4 277.5 413.8L275.6 421.2" stroke-width="1.6"/><path d="M276.9 416.2C278.2 413.4 280.3 411 282.6 411" stroke-width="1.15"/><path d="M282.6 411C285 411 285.9 412.8 285.6 415C285.3 417.5 284.3 420.5 283.5 422.8L282.3 426.2" stroke-width="1.6"/></g><g transform="translate(35.2,204.4) rotate(-90)"><text x="0" y="0" font-family="Liberation Serif, serif" fill="#000" font-size="23.8" textLength="15.2" lengthAdjust="spacingAndGlyphs">X</text><text x="15.4" y="6.5" font-family="Liberation Sans, sans-serif" font-size="13.5" fill="#111" stroke="#111" stroke-width="0.4">j</text></g></svg></body></html>
